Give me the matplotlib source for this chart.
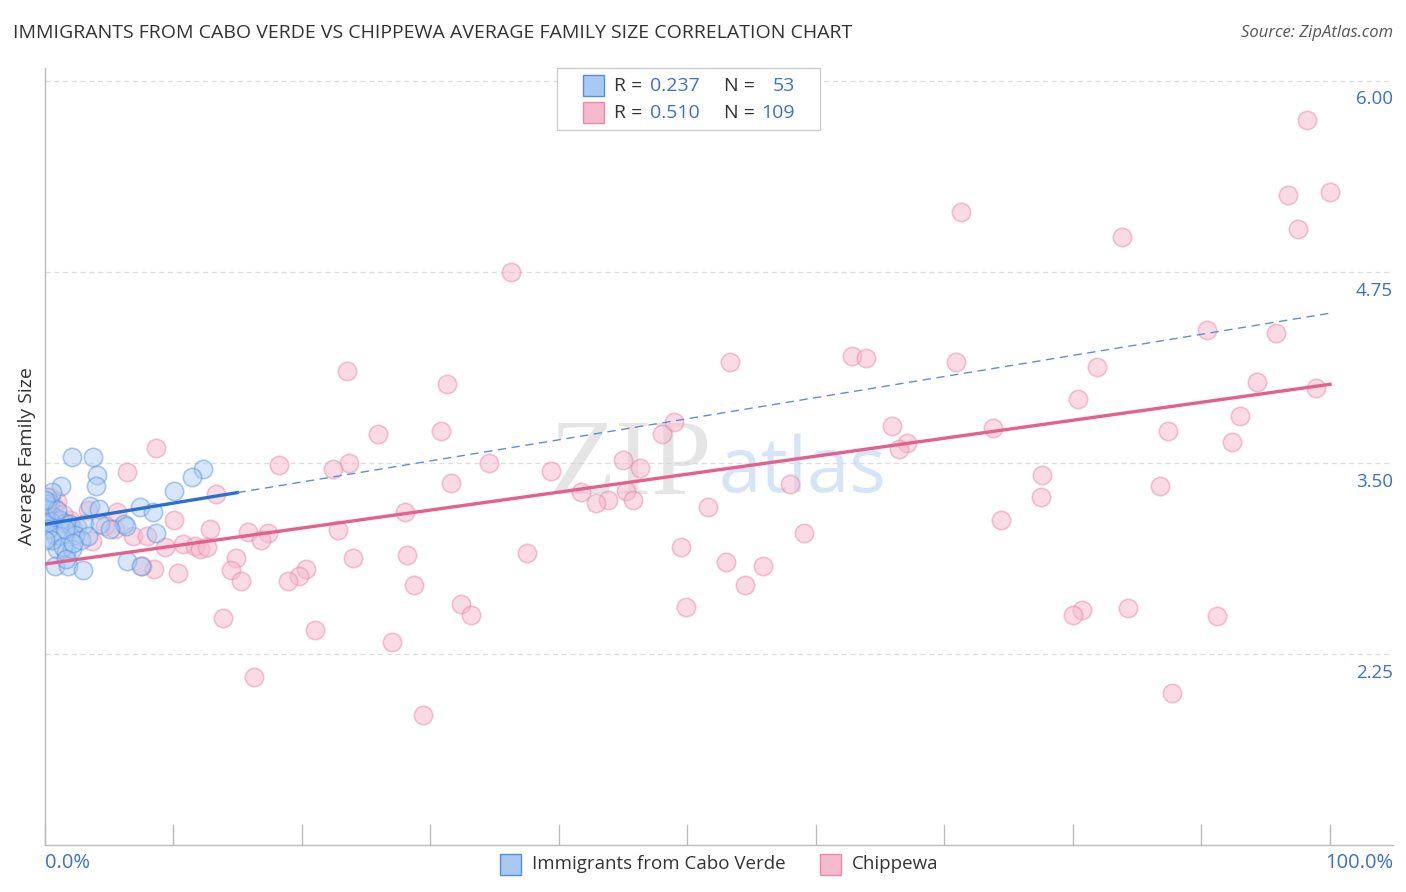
import matplotlib
matplotlib.use("Agg")
import matplotlib.pyplot as plt
import matplotlib.transforms as mtransforms
from matplotlib.patches import Rectangle
import numpy as np

plt.rcParams['font.family'] = ['Open Sans', 'DejaVu Sans']

W, H = 1406, 892

# Immigrants from Cabo Verde (x in %, y = average family size)
cabo_x = [2.1, 3.8, 4.1, 4.0, 1.3, 10.1, 12.3, 11.5, 7.4, 8.4,
          3.5, 4.2, 6.2, 6.3, 8.7, 6.4, 7.5, 0.2, 0.4, 0.2,
          0.7, 1.2, 1.6, 2.0, 2.5, 3.1, 0.4, 0.8, 0.0, 1.2,
          2.4, 1.0, 1.7, 2.1, 0.8, 1.8, 3.0, 0.0, 0.3, 0.6,
          1.4, 2.8, 1.6, 4.3, 0.2, 1.0, 0.6, 0.0, 3.4, 2.2,
          5.1, 0.0, 1.7]
cabo_y = [3.54, 3.54, 3.42, 3.35, 3.35, 3.32, 3.46, 3.41, 3.21, 3.18,
          3.22, 3.20, 3.10, 3.09, 3.04, 2.86, 2.83, 3.28, 3.24, 3.19,
          3.15, 3.13, 3.11, 3.10, 3.08, 3.10, 3.12, 3.03, 3.10, 3.02,
          3.03, 2.94, 2.92, 2.94, 2.83, 2.83, 2.80, 3.15, 3.07, 3.00,
          2.95, 3.00, 3.07, 3.10, 3.23, 3.19, 3.31, 3.26, 3.02, 2.98,
          3.07, 3.00, 2.87]

# Chippewa
chip_x = [98.2, 96.7, 100.0, 97.5, 71.3, 83.8, 36.3, 90.4, 95.8, 62.8,
          63.9, 53.3, 70.9, 23.5, 81.9, 31.3, 94.3, 98.9, 80.4, 93.0,
          49.0, 65.9, 87.4, 25.9, 30.8, 48.0, 73.8, 92.4, 67.1, 66.5,
          8.7, 18.2, 23.7, 34.6, 45.0, 46.3, 39.4, 22.4, 6.4, 77.6,
          31.6, 86.8, 58.0, 41.7, 45.2, 13.3, 43.8, 42.9, 45.8, 77.5,
          51.6, 28.0, 74.4, 10.1, 5.6, 12.9, 4.7, 15.8, 17.4, 22.8,
          59.1, 6.9, 8.0, 16.8, 3.7, 10.8, 11.7, 12.1, 12.6, 9.4,
          49.5, 37.5, 28.2, 24.0, 14.9, 53.0, 55.9, 20.3, 19.8, 8.5,
          14.5, 10.4, 15.3, 18.9, 28.7, 54.5, 32.4, 49.9, 80.7, 84.3,
          80.0, 33.2, 91.2, 13.9, 21.0, 27.0, 16.3, 87.7, 29.4, 0.4,
          1.0, 0.7, 2.0, 2.2, 3.4, 5.5, 7.6, 0.2, 1.4]
chip_y = [5.74, 5.25, 5.27, 5.03, 5.14, 4.98, 4.75, 4.37, 4.35, 4.20,
          4.19, 4.16, 4.16, 4.10, 4.13, 4.02, 4.03, 3.99, 3.92, 3.81,
          3.77, 3.74, 3.71, 3.69, 3.71, 3.69, 3.73, 3.64, 3.63, 3.59,
          3.60, 3.49, 3.50, 3.50, 3.52, 3.47, 3.45, 3.46, 3.44, 3.42,
          3.37, 3.35, 3.36, 3.31, 3.32, 3.30, 3.26, 3.24, 3.26, 3.28,
          3.21, 3.18, 3.13, 3.13, 3.18, 3.07, 3.09, 3.05, 3.04, 3.06,
          3.04, 3.02, 3.02, 3.00, 2.99, 2.97, 2.96, 2.94, 2.95, 2.95,
          2.95, 2.91, 2.90, 2.88, 2.88, 2.85, 2.83, 2.81, 2.76, 2.81,
          2.80, 2.78, 2.73, 2.73, 2.70, 2.70, 2.58, 2.56, 2.54, 2.55,
          2.51, 2.51, 2.50, 2.49, 2.41, 2.33, 2.10, 2.00, 1.85, 3.28,
          3.25, 3.21, 3.13, 3.07, 3.19, 3.07, 2.83, 3.13, 3.17]

# trend lines (intercept, slope per %)
cabo_trend = (3.10, 0.0138)
cabo_solid_end = 15.0
chip_trend = (2.84, 0.01175)

y_ticks = [2.25, 3.50, 4.75, 6.00]
y_tick_labels = ["2.25", "3.50", "4.75", "6.00"]
x_ticks = [0, 10, 20, 30, 40, 50, 60, 70, 80, 90, 100]

BLUE_FILL = "#a9c9f2"
BLUE_EDGE = "#4f8ee0"
BLUE_LINE = "#2b6fd3"
PINK_FILL = "#f7b9cd"
PINK_EDGE = "#e98aaa"
PINK_LINE = "#e5608c"
TICK_BLUE = "#3b70cc"
TEXT = "#333333"


def fx(px):
    return px / W


def fy(py):
    return 1 - py / H


fig = plt.figure(figsize=(W / 100, H / 100), dpi=100)
ax = fig.add_axes([fx(44.6), fy(845), fx(1393) - fx(44.6), fy(68) - fy(845)])
ax.set_xlim(0, 104.9)
ax.set_ylim(1.003, 6.083)

ax.scatter(chip_x, chip_y, s=175, facecolor=PINK_FILL, edgecolor=PINK_EDGE,
           alpha=0.5, linewidth=1.2, zorder=3)
ax.scatter(cabo_x, cabo_y, s=175, facecolor=BLUE_FILL, edgecolor=BLUE_EDGE,
           alpha=0.45, linewidth=1.2, zorder=4)

xs = np.array([0, cabo_solid_end])
ax.plot(xs, cabo_trend[0] + cabo_trend[1] * xs, color=BLUE_LINE, lw=2.4, zorder=5)
xs = np.array([cabo_solid_end, 100])
ax.plot(xs, cabo_trend[0] + cabo_trend[1] * xs, color="#5d8fd8", lw=1.0,
        dashes=(6, 4), zorder=5)
xs = np.array([0, 100])
ax.plot(xs, chip_trend[0] + chip_trend[1] * xs, color=PINK_LINE, lw=2.4, zorder=5)

for v in y_ticks:
    ax.axhline(v, color="#dddddd", lw=0.9, dashes=(4, 3), zorder=1)

for s in ["top", "right"]:
    ax.spines[s].set_visible(False)
for s in ["left", "bottom"]:
    ax.spines[s].set_color("#bbbbbb")
    ax.spines[s].set_linewidth(1.0)

ax.set_yticks([])
ax.set_xticks(x_ticks)
ax.set_xticklabels([])
ax.tick_params(axis="x", direction="in", length=15, color="#bbbbbb", width=1.0)
ax.set_xticks([50], minor=True)
ax.tick_params(axis="x", which="minor", direction="in", length=19,
               color="#bbbbbb", width=1.0)

trans = mtransforms.blended_transform_factory(ax.transAxes, ax.transData)
for v, lab in zip(y_ticks, y_tick_labels):
    ax.annotate(lab, xy=(1.0, v), xycoords=trans, xytext=(0, -7),
                textcoords="offset points", ha="right", va="top",
                fontsize=13.5, color=TICK_BLUE)

# watermark
ax.text(0.495, 0.485, "ZIP", transform=ax.transAxes, fontsize=78,
        family="Liberation Serif", color="#d4d4d4", alpha=0.6,
        ha="right", va="center", zorder=2)
ax.text(0.4995, 0.48, "atlas", transform=ax.transAxes, fontsize=55,
        color="#bcd5f0", alpha=0.6, ha="left", va="center", zorder=2)

fig.text(fx(13), fy(33), "IMMIGRANTS FROM CABO VERDE VS CHIPPEWA AVERAGE FAMILY SIZE CORRELATION CHART",
         fontsize=14, color=TEXT, ha="left", va="center")
fig.text(fx(1393), fy(33), "Source: ZipAtlas.com", fontsize=12, style="italic",
         color="#555555", ha="right", va="center")
fig.text(fx(27), fy(456), "Average Family Size", rotation=90, fontsize=14,
         color=TEXT, ha="center", va="center")

fig.text(fx(45), fy(863), "0.0%", fontsize=14.5, color=TICK_BLUE, ha="left", va="center")
fig.text(fx(1393), fy(863), "100.0%", fontsize=14.5, color=TICK_BLUE, ha="right", va="center")

# top legend box
fig.patches.append(Rectangle((fx(557), fy(130)), fx(820) - fx(557), fy(68) - fy(130),
                             transform=fig.transFigure, facecolor="white",
                             edgecolor="#cccccc", lw=1.0, zorder=10))
rows = [(86, BLUE_FILL, BLUE_EDGE, "0.237", "53"),
        (113, PINK_FILL, PINK_EDGE, "0.510", "109")]
for py, fc, ec, r, n in rows:
    fig.patches.append(Rectangle((fx(583), fy(py + 10)), fx(21), 21 / H,
                                 transform=fig.transFigure, facecolor=fc,
                                 edgecolor=ec, lw=1.0, zorder=11))
    fig.text(fx(614), fy(py), "R = ", fontsize=14, color=TEXT, ha="left", va="center", zorder=12)
    fig.text(fx(650), fy(py), r, fontsize=14, color=TICK_BLUE, ha="left", va="center", zorder=12)
    fig.text(fx(724), fy(py), "N = ", fontsize=14, color=TEXT, ha="left", va="center", zorder=12)
    fig.text(fx(795), fy(py), n, fontsize=14, color=TICK_BLUE, ha="right", va="center", zorder=12)

# bottom legend
for px, fc, ec, lab in [(500, BLUE_FILL, BLUE_EDGE, "Immigrants from Cabo Verde"),
                        (820, PINK_FILL, PINK_EDGE, "Chippewa")]:
    fig.patches.append(Rectangle((fx(px), fy(875)), fx(21), 21 / H,
                                 transform=fig.transFigure, facecolor=fc,
                                 edgecolor=ec, lw=1.0))
    fig.text(fx(px + 32), fy(864), lab, fontsize=13.5, color=TEXT, ha="left", va="center")

fig.savefig("out.png", dpi=100)
